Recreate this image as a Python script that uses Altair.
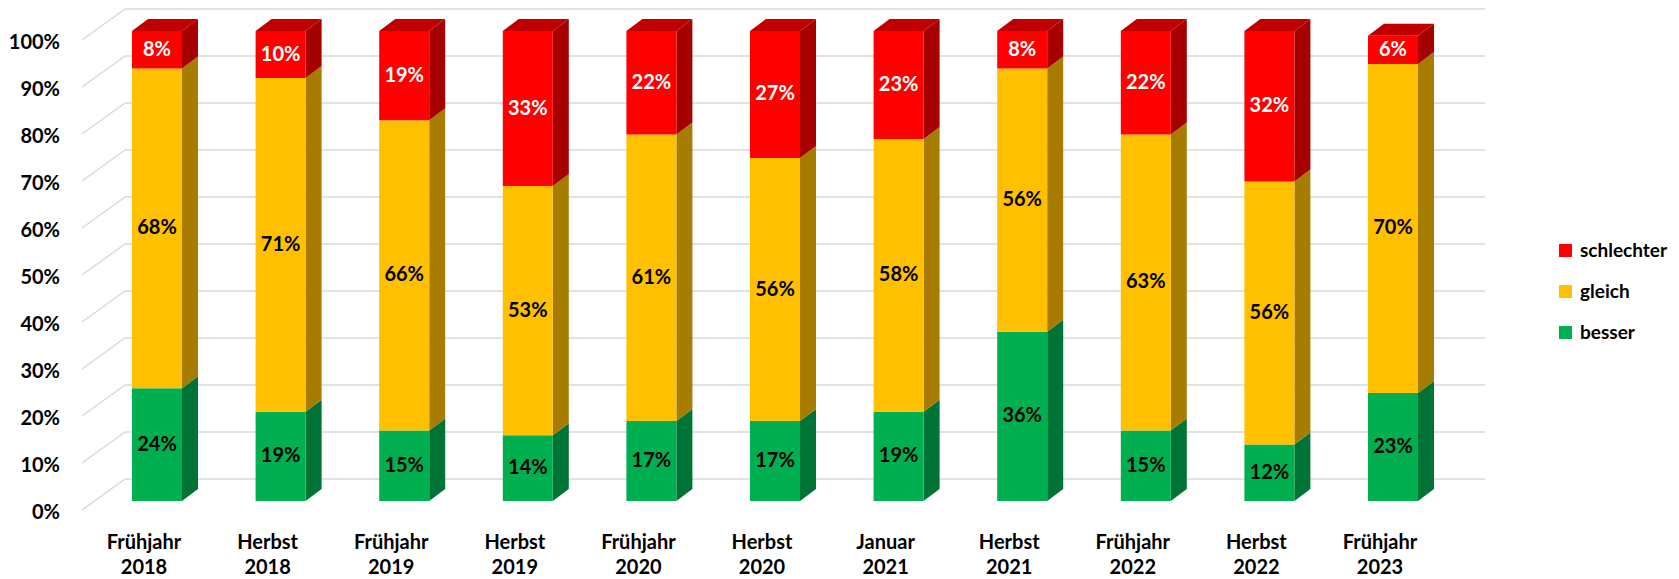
import altair as alt
import pandas as pd

# ---------------- data ----------------
categories = ["Frühjahr\n2018", "Herbst\n2018", "Frühjahr\n2019", "Herbst\n2019",
              "Frühjahr\n2020", "Herbst\n2020", "Januar\n2021", "Herbst\n2021",
              "Frühjahr\n2022", "Herbst\n2022", "Frühjahr\n2023"]
besser = [24, 19, 15, 14, 17, 17, 19, 36, 15, 12, 23]
gleich = [68, 71, 66, 53, 61, 56, 58, 56, 63, 56, 70]
schlechter = [8, 10, 19, 33, 22, 27, 23, 8, 22, 32, 6]
series_order = ["besser", "gleich", "schlechter"]          # bottom -> top
legend_order = ["schlechter", "gleich", "besser"]
y_ticks = [0, 10, 20, 30, 40, 50, 60, 70, 80, 90, 100]

# ---------------- style ----------------
front_col = {"besser": "#00B050", "gleich": "#FFC000", "schlechter": "#FF0000"}
side_col = {"besser": "#007336", "gleich": "#A67D00", "schlechter": "#A60000"}
top_col = "#C00000"
label_col = {"besser": "black", "gleich": "black", "schlechter": "white"}
FONT = "Lato"

# geometry (pixels)
W, H = 1663, 571
STEP = 123.6            # px between categories
PX = 4.7                # px per percent
X0, Y0 = 149, 493       # view position of category 0 center / 0 %
BAR_W = 50
DX, DY = 16, 12         # bar depth
hw = BAR_W / 2 / STEP
ddx, ddy = DX / STEP, DY / PX

xs = alt.Scale(domain=[-X0 / STEP, (W - X0) / STEP], nice=False, zero=False)
ys = alt.Scale(domain=[(Y0 - H) / PX, Y0 / PX], nice=False, zero=False)

vals = {"besser": besser, "gleich": gleich, "schlechter": schlechter}

front_rows, side_rows, top_rows, lab_rows = [], [], [], []
for i, cat in enumerate(categories):
    b = 0
    for s in series_order:
        v = vals[s][i]
        t = b + v
        front_rows.append(dict(x=i - hw, x2=i + hw, y=b, y2=t, serie=s))
        key = f"{i}-{s}"
        side_rows.append(dict(k=key, x=i + hw, y=b, y2=t, c=side_col[s]))
        side_rows.append(dict(k=key, x=i + hw + ddx, y=b + ddy, y2=t + ddy, c=side_col[s]))
        lab_rows.append(dict(x=i, y=(b + t) / 2, text=f"{v}%", lc=label_col[s]))
        b = t
    top_rows.append(dict(k=str(i), y=b, x=i - hw, x2=i + hw))
    top_rows.append(dict(k=str(i), y=b + ddy, x=i - hw + ddx, x2=i + hw + ddx))

front_df = pd.DataFrame(front_rows)
side_df = pd.DataFrame(side_rows)
top_df = pd.DataFrame(top_rows)
lab_df = pd.DataFrame(lab_rows)

# grid (back wall + floor diagonals)
FRONT_X, FRONT_DY = (82 - 157) / STEP, -9 / PX
BACK_X, BACK_DY = (125 - 157) / STEP, 22 / PX
RIGHT_X = (1485 - 157) / STEP
grid_df = pd.DataFrame([dict(x=BACK_X, x2=RIGHT_X, y=t + BACK_DY) for t in y_ticks])
diag_rows = []
for t in y_ticks:
    diag_rows.append(dict(k=t, x=FRONT_X, y=t + FRONT_DY))
    diag_rows.append(dict(k=t, x=BACK_X, y=t + BACK_DY))
diag_df = pd.DataFrame(diag_rows)

ytick_df = pd.DataFrame([dict(x=(60 - 157) / STEP, y=t - 12 / PX, text=f"{t}%") for t in y_ticks])
xlab_df = pd.DataFrame([dict(x=i - 13 / STEP, l1=c.split("\n")[0], l2=c.split("\n")[1])
                        for i, c in enumerate(categories)])

X = lambda f="x": alt.X(f"{f}:Q", scale=xs, axis=None)
Y = lambda f="y": alt.Y(f"{f}:Q", scale=ys, axis=None)

grid = alt.Chart(grid_df).mark_rule(color="#D9D9D9", strokeWidth=1.5).encode(
    x=X(), x2="x2:Q", y=Y())
diag = alt.Chart(diag_df).mark_line(color="#D9D9D9", strokeWidth=1.5).encode(
    x=X(), y=Y(), detail="k:N")

sides = alt.Chart(side_df).mark_area(orient="vertical").encode(
    x=X(), y=Y(), y2="y2:Q", detail="k:N", fill=alt.Fill("c:N", scale=None))
tops = alt.Chart(top_df).mark_area(orient="horizontal", color=top_col).encode(
    y=Y(), x=X(), x2="x2:Q", detail="k:N")
fronts = alt.Chart(front_df).mark_rect().encode(
    x=X(), x2="x2:Q", y=Y(), y2="y2:Q",
    color=alt.Color("serie:N",
                    scale=alt.Scale(domain=legend_order, range=[front_col[s] for s in legend_order]),
                    legend=alt.Legend(title=None, orient="none", legendX=1548, legendY=233,
                                      symbolType="square", symbolSize=169, symbolStrokeWidth=0,
                                      labelFont=FONT, labelFontSize=19, labelFontWeight="bold",
                                      labelColor="black", labelOffset=5, rowPadding=21,
                                      labelLimit=300, padding=0)))

lab_w = alt.Chart(lab_df[lab_df.lc == "white"]).mark_text(
    font=FONT, fontSize=20, fontWeight="bold", color="white", baseline="middle").encode(
    x=X(), y=Y(), text="text:N")
lab_b = alt.Chart(lab_df[lab_df.lc == "black"]).mark_text(
    font=FONT, fontSize=20, fontWeight="bold", color="black", baseline="middle").encode(
    x=X(), y=Y(), text="text:N")

yt = alt.Chart(ytick_df).mark_text(
    font=FONT, fontSize=20, fontWeight="bold", color="black", align="right", baseline="middle").encode(
    x=X(), y=Y(), text="text:N")
xl1 = alt.Chart(xlab_df).mark_text(
    font=FONT, fontSize=20, fontWeight="bold", color="black", baseline="middle").encode(
    x=X(), y=alt.Y("yy:Q", scale=ys, axis=None), text="l1:N").transform_calculate(yy=str(-42 / PX))
xl2 = alt.Chart(xlab_df).mark_text(
    font=FONT, fontSize=20, fontWeight="bold", color="black", baseline="middle").encode(
    x=X(), y=alt.Y("yy:Q", scale=ys, axis=None), text="l2:N").transform_calculate(yy=str(-67 / PX))

chart = alt.layer(grid, diag, sides, tops, fronts, lab_w, lab_b, yt, xl1, xl2).properties(
    width=W, height=H, autosize=alt.AutoSizeParams(type="none"), padding=0,
    background="white"
).configure_view(stroke=None)

chart.save("out.html", embed_options={"renderer": "svg", "actions": False})
